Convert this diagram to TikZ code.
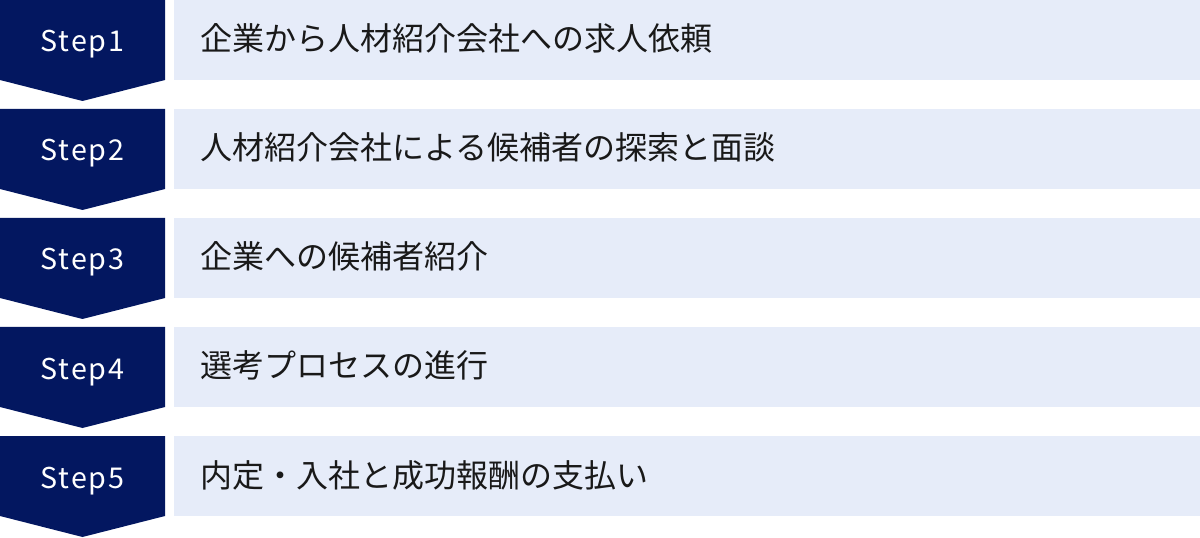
\documentclass[tikz,border=0pt]{standalone}
\usepackage{fontspec}
\setmainfont{Noto Sans CJK JP}
\newfontfamily\stepfont[LetterSpace=6]{Noto Sans CJK JP}
\definecolor{navy}{RGB}{3,23,96}
\definecolor{pale}{RGB}{230,236,249}

\begin{document}
\begin{tikzpicture}[x=0.75pt,y=-0.75pt,
steptag/.style={anchor=base,text=white,inner sep=0pt,font=\stepfont\fontsize{21.5}{22}\selectfont},
item/.style={anchor=base west,text=black!90,inner sep=0pt,font=\fontsize{24}{26}\selectfont}]
\useasboundingbox (0,0) rectangle (1200,538);

\fill[navy] (0,0) -- (165,0) -- (165,80) -- (82.5,101) -- (0,80) -- cycle;
\fill[navy] (0,109) -- (165,109) -- (165,189) -- (82.5,210) -- (0,189) -- cycle;
\fill[navy] (0,218) -- (165,218) -- (165,298) -- (82.5,319) -- (0,298) -- cycle;
\fill[navy] (0,327) -- (165,327) -- (165,407) -- (82.5,428) -- (0,407) -- cycle;
\fill[navy] (0,436) -- (165,436) -- (165,516) -- (82.5,537) -- (0,516) -- cycle;

\fill[pale] (174,0) rectangle (1200,80);
\fill[pale] (174,109) rectangle (1200,189);
\fill[pale] (174,218) rectangle (1200,298);
\fill[pale] (174,327) rectangle (1200,407);
\fill[pale] (174,436) rectangle (1200,516);

\node[steptag] at (82.5,52) (s1) {Step1};
\node[steptag] at (82.5,161) (s2) {Step2};
\node[steptag] at (82.5,270) (s3) {Step3};
\node[steptag] at (82.5,379) (s4) {Step4};
\node[steptag] at (82.5,488) (s5) {Step5};

\node[item] at (200,51) (t1) {企業から人材紹介会社への求人依頼};
\node[item] at (200,160) (t2) {人材紹介会社による候補者の探索と面談};
\node[item] at (200,269) (t3) {企業への候補者紹介};
\node[item] at (200,378) (t4) {選考プロセスの進行};
\node[item] at (200,487) (t5) {内定・入社と成功報酬の支払い};
\end{tikzpicture}
\end{document}
